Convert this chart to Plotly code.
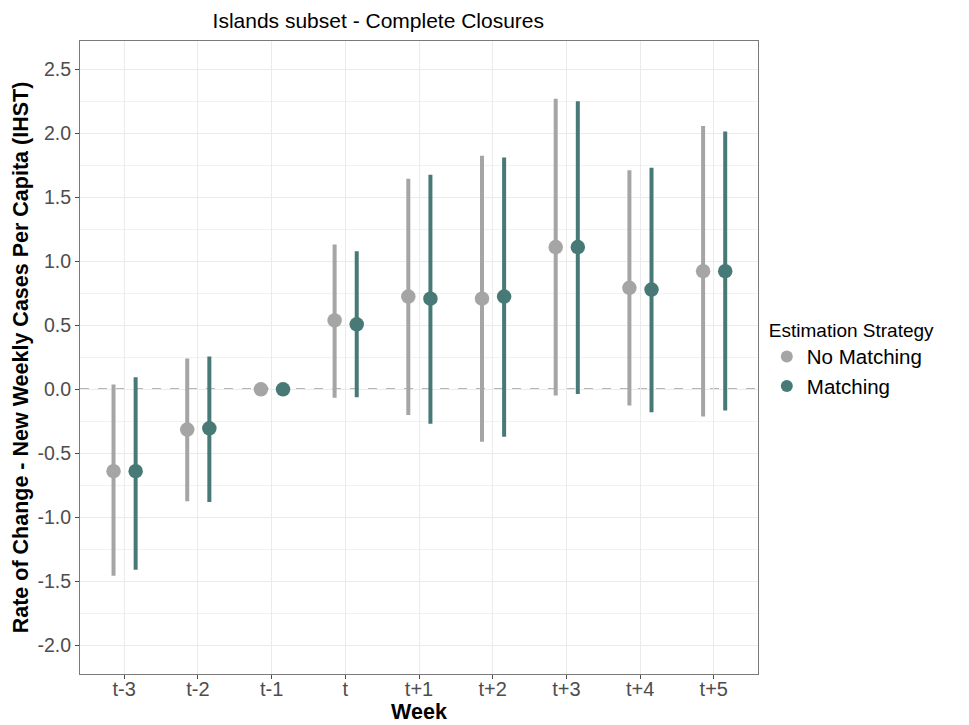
import plotly.graph_objects as go

weeks = ["t-3", "t-2", "t-1", "t", "t+1", "t+2", "t+3", "t+4", "t+5"]

nm_est = [-0.64, -0.315, 0.0, 0.537, 0.724, 0.707, 1.11, 0.792, 0.922]
nm_lo = [-1.455, -0.875, 0.0, -0.066, -0.20, -0.41, -0.048, -0.127, -0.213]
nm_hi = [0.037, 0.24, 0.0, 1.13, 1.644, 1.823, 2.268, 1.709, 2.055]

m_est = [-0.64, -0.305, 0.0, 0.507, 0.707, 0.724, 1.11, 0.778, 0.922]
m_lo = [-1.409, -0.88, 0.0, -0.062, -0.27, -0.37, -0.036, -0.18, -0.166]
m_hi = [0.094, 0.255, 0.0, 1.078, 1.675, 1.81, 2.248, 1.73, 2.013]

series = [
    ("No Matching", nm_est, nm_lo, nm_hi, "#A5A5A5", -0.145),
    ("Matching", m_est, m_lo, m_hi, "#477A76", 0.155),
]

fig = go.Figure()
for name, est, lo, hi, col, off in series:
    xs = [i + off for i in range(len(weeks))]
    fig.add_trace(go.Scatter(
        x=xs, y=est, mode="markers", name=name,
        marker=dict(size=14.5, color=col),
        error_y=dict(type="data", symmetric=False,
                     array=[h - e for h, e in zip(hi, est)],
                     arrayminus=[e - l for e, l in zip(est, lo)],
                     thickness=4, width=0, color=col),
    ))

fig.add_shape(type="line", xref="paper", x0=0, x1=1, yref="y", y0=0, y1=0,
              line=dict(color="#6E6E6E", width=1.3, dash="dash"), layer="below")

# page body has an 8px margin, so the figure is drawn 8px in from the corner
font_family = "Liberation Sans, Arial, sans-serif"
fig.update_layout(
    width=961, height=717,
    margin=dict(l=72, r=211, t=33, b=51, autoexpand=False),
    paper_bgcolor="white", plot_bgcolor="white",
    font=dict(family=font_family, color="#000000"),
    title=dict(text="Islands subset - Complete Closures", x=0.44, xref="paper",
               xanchor="center", y=0.982, yanchor="middle",
               font=dict(size=21, color="#000000")),
    showlegend=True,
    legend=dict(title=dict(text="Estimation Strategy", font=dict(size=19)),
                font=dict(size=20.5), x=1.013, xanchor="left", y=0.572, yanchor="top",
                tracegroupgap=0, itemsizing="constant", bgcolor="rgba(0,0,0,0)"),
)
fig.update_xaxes(
    range=[-0.6, 8.6], tickmode="array", tickvals=list(range(len(weeks))), ticktext=weeks,
    showgrid=True, gridcolor="#EBEBEB", gridwidth=1.2, zeroline=False,
    showline=True, linecolor="#7A7A7A", linewidth=1.2, mirror=True,
    ticks="outside", ticklen=4, tickcolor="#4D4D4D", ticklabelstandoff=-7,
    tickfont=dict(size=20, color="#4D4D4D"), automargin=False,
    title=dict(text="<b>Week</b>", font=dict(size=21.5, color="#000000"), standoff=4),
)
fig.update_yaxes(
    range=[-2.223, 2.719], tickmode="array",
    tickvals=[-2.0, -1.5, -1.0, -0.5, 0.0, 0.5, 1.0, 1.5, 2.0, 2.5],
    ticktext=["-2.0", "-1.5", "-1.0", "-0.5", "0.0", "0.5", "1.0", "1.5", "2.0", "2.5"],
    showgrid=True, gridcolor="#EBEBEB", gridwidth=1.2, zeroline=False,
    minor=dict(tickvals=[-2.25, -1.75, -1.25, -0.75, -0.25, 0.25, 0.75, 1.25, 1.75, 2.25],
               showgrid=True, gridcolor="#F2F2F2", gridwidth=0.8, ticks=""),
    showline=True, linecolor="#7A7A7A", linewidth=1.2, mirror=True,
    ticks="outside", ticklen=4, tickcolor="#4D4D4D",
    tickfont=dict(size=19.5, color="#4D4D4D"), automargin=False,
    title=dict(text="<b>Rate of Change - New Weekly Cases Per Capita (IHST)</b>",
               font=dict(size=21.5, color="#000000"), standoff=2),
)

fig.write_html("out.html")
